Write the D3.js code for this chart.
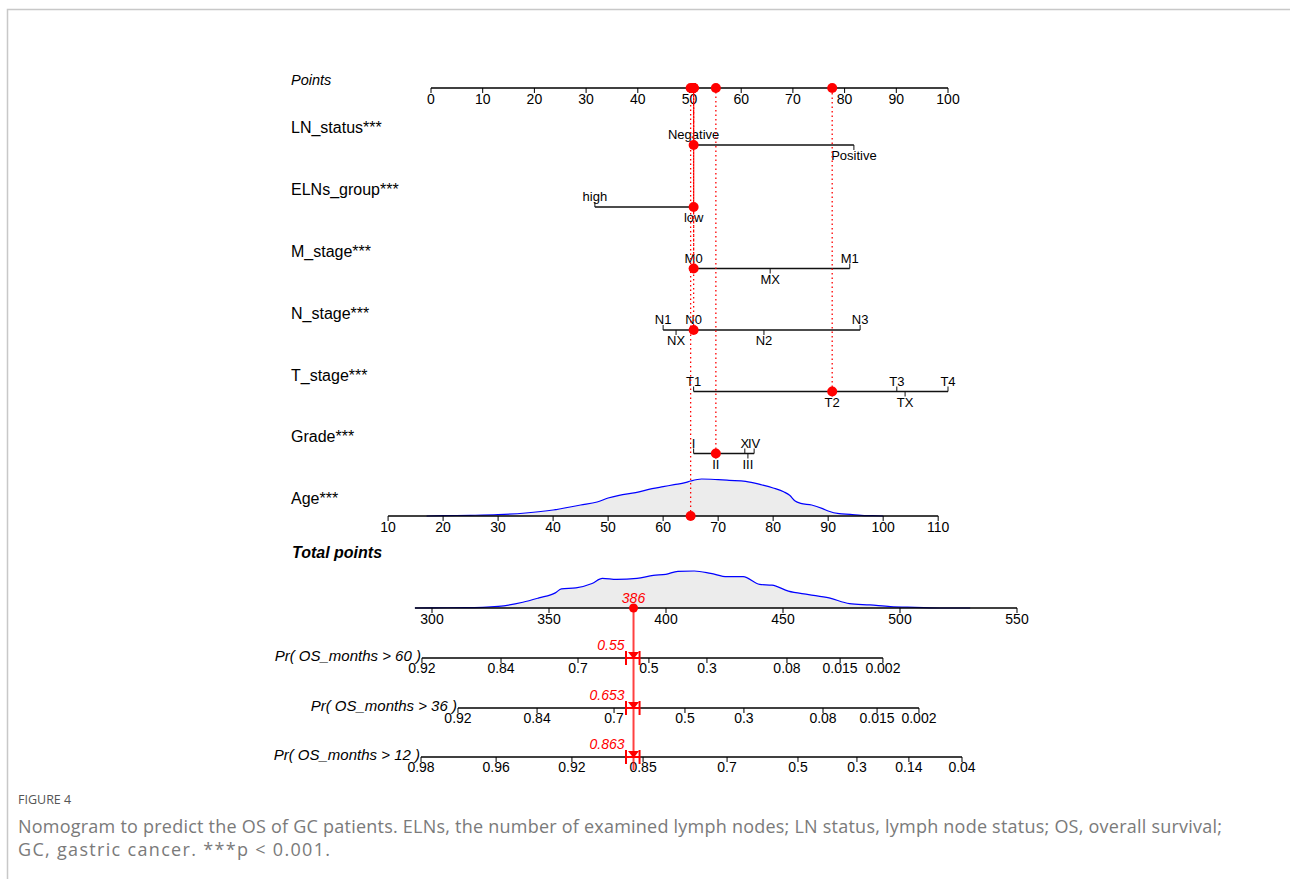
<!DOCTYPE html>
<html><head><meta charset="utf-8">
<script src="https://cdn.jsdelivr.net/npm/d3@7"></script>
<style>
body{margin:0;background:#fff}
svg{display:block}
text{font-family:"Liberation Sans",Arial,sans-serif;fill:#000}
</style>
</head><body>
<svg id="c" width="1290" height="879"></svg>
<script>
// ---------------- data ----------------
const pointsTicks = [0,10,20,30,40,50,60,70,80,90,100];

const varNames = ["LN_status***","ELNs_group***","M_stage***","N_stage***","T_stage***","Grade***"];
const lnLevels = ["Negative","Positive"];          const lnPoints = [50.8, 81.8];
const elnLevels = ["high","low"];                   const elnPoints = [31.7, 50.8];
const mLevels = ["M0","MX","M1"];                   const mPoints = [50.8, 65.6, 81.0];
const nLevels = ["N1","NX","N0","N2","N3"];         const nPoints = [44.9, 47.4, 50.8, 64.4, 83.0];
const tLevels = ["T1","T2","T3","TX","T4"];         const tPoints = [50.8, 77.6, 90.1, 91.7, 100];
const gradeLevels = ["I","II","X","III","IV"];      const gradePoints = [50.8, 55.1, 60.7, 61.3, 62.5];
const selectedLevels = ["Negative","low","M0","N0","T2","II"];

const ageName = "Age***";
const ageTicks = [10,20,30,40,50,60,70,80,90,100,110];
const ageRangePoints = [-8.3, 98.1];   // points at age 10 and age 110
const ageValue = 65;
const ageDensX = [17,20,25,30,35,40,45,48,50,52,55,58,60,62,64,65,67,70,72,75,78,80,82,83,84,85,87,89,90,92,94,96,98,100];
const ageDensY = [0,1,2,4,9,18,33,42,54,62,70,82,88,94,100,105,111,109,107,104,93,84,72,62,45,38,33,22,15,7,5,2,1,0];

const totalTicks = [300,350,400,450,500,550];
const totalAxisRange = [292.7, 550];
const totalDensX = [292.7,300,314.3,328.3,338.8,345.7,352.7,355.3,361.5,368.4,372.8,378.9,387.6,394.6,399.9,405.1,412.1,419.1,426.1,433.0,440.0,445.3,452.3,461.0,469.7,478.4,487.2,495.9,506.4,518.6,530];
const totalDensY = [0,0.5,1,5,17,30,45,57,60,73,88,85,88,97,100,109,110,103,93,93,70,68,50,40,30,13,9,4,2,0,0];

const prNames = ["Pr( OS_months > 60 )","Pr( OS_months > 36 )","Pr( OS_months > 12 )"];
const pr60Labels = ["0.92","0.84","0.7","0.5","0.3","0.08","0.015","0.002"];
const pr60Total  = [295.7,329.5,362.4,392.7,417.5,451.7,474.4,492.7];
const pr36Labels = ["0.92","0.84","0.7","0.5","0.3","0.08","0.015","0.002"];
const pr36Total  = [311.1,344.9,377.8,408.1,433.3,467.1,490.2,508.1];
const pr12Labels = ["0.98","0.96","0.92","0.85","0.7","0.5","0.3","0.14","0.04"];
const pr12Total  = [295.3,327.4,359.8,390.2,426.1,456.4,481.6,503.8,526.5];
const prValues = ["0.55","0.653","0.863"];
const prCI = [382.9, 388.7];   // total-points span of the interval marker

const captionHead = "FIGURE 4";
const captionLines = [
 "Nomogram to predict the OS of GC patients. ELNs, the number of examined lymph nodes; LN status, lymph node status; OS, overall survival;",
 "GC, gastric cancer. ***p < 0.001."
];

// ---------------- drawing ----------------
const svg = d3.select("#c");
const RED = "#ff0000";
const pointsX = d3.scaleLinear().domain([0,100]).range([431,948]);
const totalX = d3.scaleLinear().domain([300,550]).range([432,1017]);
const ageX = d3.scaleLinear().domain([10,110]).range([pointsX(ageRangePoints[0]), pointsX(ageRangePoints[1])]);
const ageToPoints = d3.scaleLinear().domain([10,110]).range(ageRangePoints);

// frame
svg.append("path").attr("d","M7.5,879 V9.5 H1290").attr("fill","none").attr("stroke","#c8c8c8").attr("stroke-width",1.5);

const LX = 291;
const yPoints = 88;
const rowY = [145,207,268.5,330,391.5,453.5];
const labelY = [127,189,251,313,375,436];
const yAge = 516, yTotal = 608;
const prY = [658,708,757];

function hAxis(scale, ticks, y, fmt, x0, x1, fs){
  const g = svg.append("g");
  g.append("line").attr("x1",x0).attr("x2",x1).attr("y1",y).attr("y2",y).attr("stroke","#000").attr("stroke-width",1.3);
  ticks.forEach(t=>{
    const x = scale(t);
    g.append("line").attr("x1",x).attr("x2",x).attr("y1",y).attr("y2",y+5).attr("stroke","#000").attr("stroke-width",1);
    g.append("text").attr("x",x).attr("y",y+11).attr("dy","0.35em").attr("text-anchor","middle")
      .attr("font-size",fs||14).text(fmt(t));
  });
  return g;
}

// Points axis
svg.append("text").attr("x",LX).attr("y",80).attr("dy","0.35em").attr("font-size",14.5).attr("font-style","italic").text("Points");
hAxis(pointsX, pointsTicks, yPoints, d=>d, pointsX(0), pointsX(100));

const allRows = [
  [lnLevels, lnPoints],[elnLevels, elnPoints],[mLevels, mPoints],
  [nLevels, nPoints],[tLevels, tPoints],[gradeLevels, gradePoints]
];
const selectedPts = [];
const dotLayer = [];
allRows.forEach(([levels, pts], r)=>{
  const y = rowY[r];
  svg.append("text").attr("x",LX).attr("y",labelY[r]).attr("dy","0.35em").attr("font-size",16).text(varNames[r]);
  const order = d3.range(levels.length).sort((a,b)=>pts[a]-pts[b]);
  svg.append("line").attr("x1",pointsX(d3.min(pts))).attr("x2",pointsX(d3.max(pts)))
    .attr("y1",y).attr("y2",y).attr("stroke","#111").attr("stroke-width",1.3);
  order.forEach((i,k)=>{
    const side = k%2===0 ? -1 : 1;
    const x = pointsX(pts[i]);
    svg.append("line").attr("x1",x).attr("x2",x).attr("y1",y).attr("y2",y+side*5).attr("stroke","#111").attr("stroke-width",1);
    svg.append("text").attr("x",x).attr("y", side<0 ? y-10.5 : y+10.5).attr("dy","0.35em")
      .attr("text-anchor","middle").attr("font-size",13).text(levels[i]);
    if (levels[i]===selectedLevels[r]) { selectedPts.push(pts[i]); dotLayer.push([x,y]); }
  });
});

// Age row
svg.append("text").attr("x",LX).attr("y",498).attr("dy","0.35em").attr("font-size",16).text(ageName);
const ageH = d3.scaleLinear().domain([0,111]).range([0,37]);
const ageArea = d3.area().x((d,i)=>ageX(ageDensX[i])).y0(yAge).y1((d,i)=>yAge-ageH(ageDensY[i])).curve(d3.curveMonotoneX);
svg.append("path").datum(ageDensY).attr("d",ageArea).attr("fill","#ececec");
svg.append("path").datum(ageDensY).attr("d",ageArea.lineY1()).attr("fill","none").attr("stroke","#0000ff").attr("stroke-width",1.2);
hAxis(ageX, ageTicks, yAge, d=>d, ageX(10), ageX(110));
const agePts = ageToPoints(ageValue);
selectedPts.push(agePts);
dotLayer.push([ageX(ageValue), yAge]);

// dotted connectors & dots
dotLayer.forEach(([x,y])=>{
  svg.append("line").attr("x1",x).attr("x2",x).attr("y1",y).attr("y2",yPoints)
    .attr("stroke",RED).attr("stroke-width",1.3).attr("stroke-dasharray","1.5,3");
});
dotLayer.forEach(([x,y])=>{
  svg.append("circle").attr("cx",x).attr("cy",y).attr("r",5).attr("fill",RED);
  svg.append("circle").attr("cx",x).attr("cy",yPoints).attr("r",5).attr("fill",RED);
});

// Total points
svg.append("text").attr("x",LX+1).attr("y",552).attr("dy","0.35em").attr("font-size",16)
  .attr("font-style","italic").attr("font-weight","bold").text("Total points");
const totH = d3.scaleLinear().domain([0,110]).range([0,37]);
const totArea = d3.area().x((d,i)=>totalX(totalDensX[i])).y0(yTotal).y1((d,i)=>yTotal-totH(totalDensY[i])).curve(d3.curveMonotoneX);
svg.append("path").datum(totalDensY).attr("d",totArea).attr("fill","#ececec");
svg.append("path").datum(totalDensY).attr("d",totArea.lineY1()).attr("fill","none").attr("stroke","#0000ff").attr("stroke-width",1.2);
hAxis(totalX, totalTicks, yTotal, d=>d, totalX(totalAxisRange[0]), totalX(totalAxisRange[1]));

const totalScore = d3.sum(selectedPts);
const tx = totalX(totalScore);

// Pr axes
const prSets = [[pr60Labels,pr60Total],[pr36Labels,pr36Total],[pr12Labels,pr12Total]];
prSets.forEach(([labs,tots],r)=>{
  const y = prY[r];
  const g = svg.append("g");
  g.append("line").attr("x1",totalX(tots[0])).attr("x2",totalX(tots[tots.length-1])).attr("y1",y).attr("y2",y)
    .attr("stroke","#000").attr("stroke-width",1.3);
  tots.forEach((t,i)=>{
    const x = totalX(t);
    g.append("line").attr("x1",x).attr("x2",x).attr("y1",y).attr("y2",y+5).attr("stroke","#000").attr("stroke-width",1);
    g.append("text").attr("x",x).attr("y",y+10).attr("dy","0.35em").attr("text-anchor","middle").attr("font-size",14).text(labs[i]);
  });
  svg.append("text").attr("x",totalX(tots[0])-1).attr("y",y-2).attr("dy","0.35em").attr("text-anchor","end")
    .attr("font-size",15).attr("font-style","italic").text(prNames[r]);
});

// red vertical line
svg.append("line").attr("x1",tx).attr("x2",tx).attr("y1",yTotal).attr("y2",770)
  .attr("stroke",RED).attr("stroke-opacity",0.75).attr("stroke-width",2);
svg.append("circle").attr("cx",tx).attr("cy",yTotal).attr("r",4.5).attr("fill",RED);
svg.append("text").attr("x",tx).attr("y",598).attr("dy","0.35em").attr("text-anchor","middle")
  .attr("font-size",14).attr("font-style","italic").style("fill",RED).text(Math.round(totalScore));

prY.forEach((y,r)=>{
  const xa = totalX(prCI[0]), xb = totalX(prCI[1]);
  svg.append("line").attr("x1",xa).attr("x2",xb).attr("y1",y).attr("y2",y).attr("stroke",RED).attr("stroke-width",2);
  [xa,xb].forEach(x=>svg.append("line").attr("x1",x).attr("x2",x).attr("y1",y-7).attr("y2",y+7).attr("stroke",RED).attr("stroke-width",2));
  svg.append("path").attr("d",`M${tx-5.5},${y-6} L${tx+5.5},${y-6} L${tx},${y+1} Z`).attr("fill",RED);
  svg.append("text").attr("x",tx-9).attr("y",y-13).attr("dy","0.35em").attr("text-anchor","end")
    .attr("font-size",14).attr("font-style","italic").style("fill",RED).text(prValues[r]);
});

// caption
svg.append("text").attr("x",18).attr("y",800).attr("dy","0.35em").attr("font-size",12.5)
  .style("font-family","'Open Sans',sans-serif").style("fill","#555").text(captionHead);
const capLen = [1204, 312];
captionLines.forEach((t,i)=>{
  svg.append("text").attr("x",18).attr("y",827+i*23).attr("dy","0.35em").attr("font-size",18)
    .attr("textLength",capLen[i]).attr("lengthAdjust","spacing")
    .style("font-family","'Open Sans',sans-serif").style("fill","#7a7a7a").text(t);
});
</script>
</body></html>
